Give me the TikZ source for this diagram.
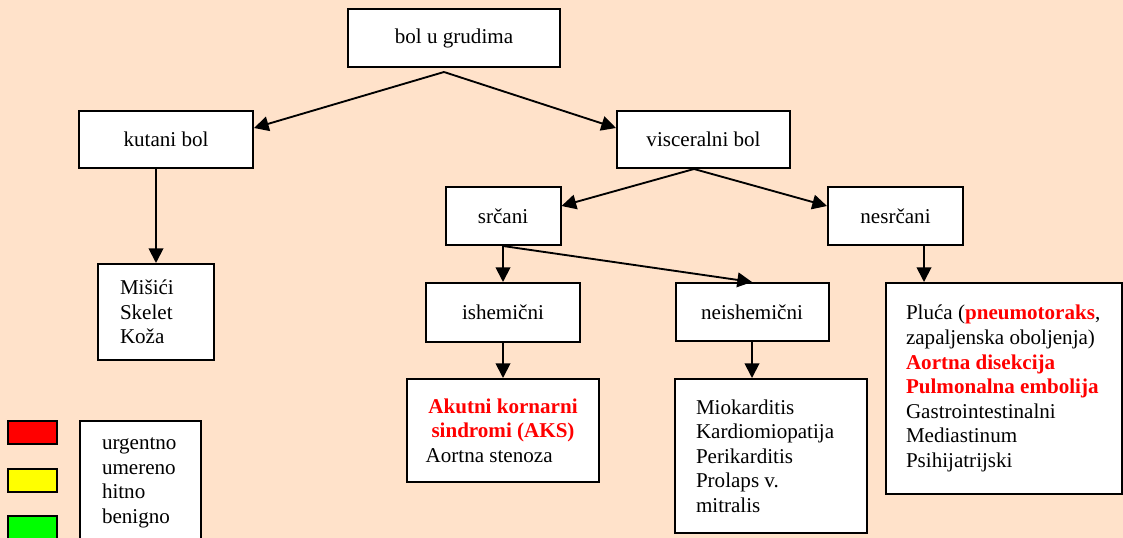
\documentclass[tikz,border=0pt]{standalone}
\usepackage{fontspec}
\setmainfont{Liberation Serif}
\usetikzlibrary{arrows.meta}

\definecolor{peach}{RGB}{255,226,202}
\definecolor{urgred}{RGB}{255,0,0}
\definecolor{modyellow}{RGB}{255,255,0}
\definecolor{bengreen}{RGB}{0,255,0}

\begin{document}
\begin{tikzpicture}[x=0.75pt, y=-0.75pt,
        font=\fontsize{15.8pt}{18.4pt}\selectfont,
        arr/.style={line width=1.4pt, -{Triangle[length=11pt, width=11pt]}},
        swatch/.style={draw, line width=0.9pt, inner sep=0pt,
            minimum width=36.75pt, minimum height=17.25pt}
    ]
    \fill[peach] (0,0) rectangle (1123,538);
    \useasboundingbox (0,0) rectangle (1123,538);
    \clip (0,0) rectangle (1123,538);

    \begin{scope}[
            every node/.style={draw, fill=white, line width=1.5pt, inner sep=0pt}
        ]

        \node[minimum width=159pt, minimum height=43.5pt] (bol) at (454,38) {bol u grudima};
        \node[minimum width=130.5pt, minimum height=42.75pt] (kutani) at (166,139.5) {kutani bol};
        \node[minimum width=129.75pt, minimum height=42.75pt] (visceralni) at (703.5,139.5) {visceralni bol};
        \node[minimum width=86.25pt, minimum height=43.5pt] (srcani) at (503,216) {srčani};
        \node[minimum width=101.25pt, minimum height=43.5pt] (nesrcani) at (895.5,216) {nesrčani};
        \node[minimum width=115.5pt, minimum height=44.25pt] (ishemicni) at (503,312.5) {ishemični};
        \node[minimum width=114.75pt, minimum height=43.5pt] (neishemicni) at (752,312) {neishemični};

        \node[text width=54pt, inner xsep=16.5pt, minimum height=72pt, align=flush left] (misici) at (156,312)
            {Mišići\\Skelet\\Koža};
        \node[text width=116pt, inner xsep=14pt, minimum height=77.25pt, align=flush left] (akutni) at (503,430.5)
            {\makebox[\hsize]{\color{urgred}\bfseries Akutni kornarni}\\
             \makebox[\hsize]{\color{urgred}\bfseries sindromi (AKS)}\\
             Aortna stenoza};
        \node[text width=112.5pt, inner xsep=15.75pt, minimum height=115.5pt, align=flush left] (miokard) at (771,456)
            {Miokarditis\\Kardiomiopatija\\Perikarditis\\Prolaps v.\\mitralis};
        \node[text width=147pt, inner xsep=15pt, minimum height=158.25pt, align=flush left] (pluca) at (1004,388.5)
            {\mbox{Pluća ({\color{urgred}\bfseries pneumotoraks},}\\
             \mbox{zapaljenska oboljenja)}\\
             {\color{urgred}\bfseries Aortna disekcija}\\
             \mbox{\color{urgred}\bfseries Pulmonalna embolija}\\
             Gastrointestinalni\\Mediastinum\\Psihijatrijski};

        % legenda
        \node[text width=57.75pt, inner xsep=16.5pt, minimum height=93pt, align=flush left] (legenda) at (140.5,483)
            {urgentno\\umereno\\hitno\\benigno};
    \end{scope}

    \node[swatch, fill=urgred] (crvena) at (32.5,432.5) {};
    \node[swatch, fill=modyellow] (zuta) at (32.5,480.5) {};
    \node[swatch, fill=bengreen, minimum height=18pt] (zelena) at (32.5,528) {};

    \coordinate (f1) at (444,72);
    \coordinate (f2) at (694,169);
    \coordinate (f3) at (924,245);

    \draw[arr] (f1) -- (kutani.east |- 0,128);
    \draw[arr] (f1) -- (visceralni.west |- 0,128);
    \draw[arr] (f2) -- (srcani.east |- 0,206);
    \draw[arr] (f2) -- (nesrcani.west |- 0,206);
    \draw[arr] (misici.north |- kutani.south) -- (misici.north);
    \draw[arr] (srcani.south) -- (ishemicni.north);
    \draw[arr] (srcani.south) -- (neishemicni.north);
    \draw[arr] (f3) -- (f3 |- pluca.north);
    \draw[arr] (ishemicni.south) -- (akutni.north);
    \draw[arr] (neishemicni.south) -- (neishemicni.south |- miokard.north);
\end{tikzpicture}
\end{document}
